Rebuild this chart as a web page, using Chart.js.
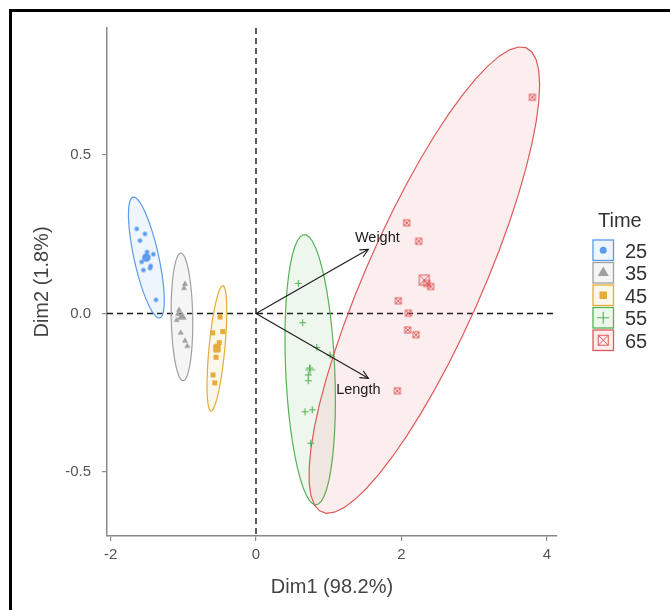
<!DOCTYPE html>
<html><head><meta charset="utf-8">
<script src="https://cdn.jsdelivr.net/npm/chart.js@4"></script>
<style>
html,body{margin:0;padding:0;background:#fff;overflow:hidden;}
#wrap{position:relative;width:670px;height:610px;}
#frame{position:absolute;left:9px;top:9px;width:700px;height:700px;border-top:3px solid #000;border-left:3px solid #000;pointer-events:none;}
canvas{position:absolute;left:0;top:0;}
</style></head><body>
<div id="wrap"><canvas id="c" width="670" height="610"></canvas><div id="frame"></div></div>
<script>
// ---------- data ----------
const groups = ['25', '35', '45', '55', '65'];
const dim1_25 = [-1.641, -1.527, -1.596, -1.499, -1.413, -1.572, -1.448, -1.458, -1.550, -1.376];
const dim2_25 = [0.267, 0.251, 0.230, 0.194, 0.187, 0.163, 0.150, 0.143, 0.137, 0.043];
const dim1_35 = [-0.977, -0.990, -1.073, -1.059, -1.018, -1.091, -1.036, -0.977, -0.945];
const dim2_35 = [0.093, 0.080, -0.002, 0.011, -0.008, -0.021, -0.061, -0.086, -0.103];
const dim1_45 = [-0.495, -0.596, -0.458, -0.505, -0.536, -0.541, -0.550, -0.591, -0.568];
const dim2_45 = [-0.011, -0.061, -0.057, -0.092, -0.103, -0.115, -0.138, -0.194, -0.219];
const dim1_55 = [0.582, 0.642, 0.835, 1.018, 0.736, 0.719, 0.719, 0.674, 0.774, 0.752];
const dim2_55 = [0.095, -0.029, -0.107, -0.131, -0.172, -0.194, -0.212, -0.310, -0.304, -0.409];
const dim1_65 = [3.801, 2.073, 2.238, 2.348, 2.403, 1.957, 2.095, 2.087, 2.201, 1.944];
const dim2_65 = [0.682, 0.286, 0.228, 0.095, 0.085, 0.040, 0.001, -0.052, -0.067, -0.244];

const varNames = ['Weight', 'Length'];
const varDim1 = [1.545, 1.545];
const varDim2 = [0.2025, -0.2044];

const xTickValues = [-2, 0, 2, 4];
const yTickValues = [-0.5, 0, 0.5];
const xTitle = 'Dim1 (98.2%)';
const yTitle = 'Dim2 (1.8%)';
const legendTitle = 'Time';

// ---------- styles ----------
const colors = ['#5B9BEA', '#A0A0A0', '#E6AC3A', '#55B255', '#DD5A5A'];
const shapes = ['circle', 'triangle', 'square', 'plus', 'squarex'];
const smallSize = [4.5, 6, 5, 7, 6];
const bigSize = [8.5, 9.5, 7.5, 10, 10];
const legendSize = [7, 11, 7.5, 12, 10];
const FONT = '"Liberation Sans", Arial, Helvetica, sans-serif';

const xs = [dim1_25, dim1_35, dim1_45, dim1_55, dim1_65];
const ys = [dim2_25, dim2_35, dim2_45, dim2_55, dim2_65];

function rgba(hex, a) {
  const n = parseInt(hex.slice(1), 16);
  return `rgba(${(n >> 16) & 255},${(n >> 8) & 255},${n & 255},${a})`;
}
function mean(a) { return a.reduce((s, v) => s + v, 0) / a.length; }

function drawSymbol(ctx, kind, x, y, s, color) {
  ctx.save();
  ctx.fillStyle = color; ctx.strokeStyle = color;
  if (kind === 'circle') { ctx.beginPath(); ctx.arc(x, y, s / 2, 0, Math.PI * 2); ctx.fill(); }
  else if (kind === 'triangle') {
    const h = s * 0.866; ctx.beginPath();
    ctx.moveTo(x, y - h * 2 / 3); ctx.lineTo(x + s / 2, y + h / 3); ctx.lineTo(x - s / 2, y + h / 3);
    ctx.closePath(); ctx.fill();
  }
  else if (kind === 'square') { ctx.fillRect(x - s / 2, y - s / 2, s, s); }
  else if (kind === 'plus') {
    ctx.lineWidth = 1.1; ctx.beginPath();
    ctx.moveTo(x - s / 2, y); ctx.lineTo(x + s / 2, y); ctx.moveTo(x, y - s / 2); ctx.lineTo(x, y + s / 2); ctx.stroke();
  }
  else if (kind === 'squarex') {
    ctx.lineWidth = 1; ctx.strokeRect(x - s / 2, y - s / 2, s, s);
    ctx.beginPath(); ctx.moveTo(x - s / 2, y - s / 2); ctx.lineTo(x + s / 2, y + s / 2);
    ctx.moveTo(x + s / 2, y - s / 2); ctx.lineTo(x - s / 2, y + s / 2); ctx.stroke();
  }
  ctx.restore();
}
function symbolCanvas(kind, s, color) {
  const c = document.createElement('canvas');
  const n = Math.ceil(s) + 4; c.width = n; c.height = n;
  drawSymbol(c.getContext('2d'), kind, n / 2, n / 2, s, color);
  return c;
}

// normal-theory 95% ellipse (as ggplot2 stat_ellipse type = "norm")
function ellipseOf(xv, yv, level) {
  const n = xv.length, mx = mean(xv), my = mean(yv);
  let sxx = 0, syy = 0, sxy = 0;
  for (let i = 0; i < n; i++) { const dx = xv[i] - mx, dy = yv[i] - my; sxx += dx * dx; syy += dy * dy; sxy += dx * dy; }
  sxx /= (n - 1); syy /= (n - 1); sxy /= (n - 1);
  const d = n - 1;
  const qf = (d / 2) * (Math.pow(1 - level, -2 / d) - 1);
  const r = Math.sqrt(2 * qf);
  const a = Math.sqrt(sxx), b = sxy / a, c = Math.sqrt(Math.max(syy - b * b, 0));
  const pts = [];
  for (let k = 0; k <= 51; k++) {
    const t = k / 51 * 2 * Math.PI, ct = Math.cos(t), st = Math.sin(t);
    pts.push({ x: mx + r * ct * a, y: my + r * (ct * b + st * c) });
  }
  return pts;
}
const ellipses = groups.map((g, i) => ellipseOf(xs[i], ys[i], 0.95));

// ---------- datasets ----------
const datasets = [];
groups.forEach((g, i) => {
  datasets.push({
    label: g,
    data: xs[i].map((v, k) => ({ x: v, y: ys[i][k] })),
    pointStyle: symbolCanvas(shapes[i], smallSize[i], colors[i]),
    pointRadius: 3, borderWidth: 0, backgroundColor: colors[i], borderColor: colors[i]
  });
});
groups.forEach((g, i) => {
  datasets.push({
    label: g + ' mean',
    data: [{ x: mean(xs[i]), y: mean(ys[i]) }],
    pointStyle: symbolCanvas(shapes[i], bigSize[i], colors[i]),
    pointRadius: 4, borderWidth: 0, backgroundColor: colors[i], borderColor: colors[i]
  });
});

const decor = {
  id: 'decor',
  beforeDatasetsDraw(chart) {
    const ctx = chart.ctx, xS = chart.scales.x, yS = chart.scales.y, a = chart.chartArea;
    ctx.save();
    // reference dashed lines
    ctx.strokeStyle = '#1a1a1a'; ctx.lineWidth = 1.4; ctx.setLineDash([6, 4]);
    const x0 = xS.getPixelForValue(0), y0 = yS.getPixelForValue(0);
    ctx.beginPath(); ctx.moveTo(x0, a.top); ctx.lineTo(x0, a.bottom); ctx.stroke();
    ctx.beginPath(); ctx.moveTo(a.left, y0); ctx.lineTo(a.right, y0); ctx.stroke();
    ctx.setLineDash([]);
    // ellipses
    ellipses.forEach((pts, i) => {
      ctx.beginPath();
      pts.forEach((p, k) => {
        const px = xS.getPixelForValue(p.x), py = yS.getPixelForValue(p.y);
        if (k === 0) ctx.moveTo(px, py); else ctx.lineTo(px, py);
      });
      ctx.closePath();
      ctx.fillStyle = rgba(colors[i], 0.1); ctx.fill();
      ctx.strokeStyle = colors[i]; ctx.lineWidth = 1.2; ctx.stroke();
    });
    ctx.restore();
  },
  afterDatasetsDraw(chart) {
    const ctx = chart.ctx, xS = chart.scales.x, yS = chart.scales.y;
    const ox = xS.getPixelForValue(0), oy = yS.getPixelForValue(0);
    const labelOffsets = [[9, -11], [-10, 12]];
    ctx.save();
    ctx.strokeStyle = '#1a1a1a'; ctx.lineWidth = 1.1;
    varNames.forEach((name, i) => {
      const tx = xS.getPixelForValue(varDim1[i]), ty = yS.getPixelForValue(varDim2[i]);
      ctx.beginPath(); ctx.moveTo(ox, oy); ctx.lineTo(tx, ty); ctx.stroke();
      const ang = Math.atan2(ty - oy, tx - ox), L = 9, w = 0.45;
      ctx.beginPath();
      ctx.moveTo(tx - L * Math.cos(ang - w), ty - L * Math.sin(ang - w));
      ctx.lineTo(tx, ty);
      ctx.lineTo(tx - L * Math.cos(ang + w), ty - L * Math.sin(ang + w));
      ctx.stroke();
      ctx.fillStyle = '#1a1a1a'; ctx.font = '14.5px ' + FONT;
      ctx.textAlign = 'center'; ctx.textBaseline = 'middle';
      ctx.fillText(name, tx + labelOffsets[i][0], ty + labelOffsets[i][1]);
    });
    ctx.restore();
  },
  afterDraw(chart) {
    const ctx = chart.ctx;
    ctx.save();
    ctx.fillStyle = '#333'; ctx.font = '20px ' + FONT;
    ctx.textAlign = 'left'; ctx.textBaseline = 'alphabetic';
    ctx.fillText(legendTitle, 598, 226.5);
    const kx = 592.5, ky = 239.5, kw = 21.5, kh = 22.5;
    groups.forEach((g, i) => {
      const top = ky + i * kh;
      ctx.fillStyle = '#fff'; ctx.fillRect(kx, top, kw, kh - 1);
      ctx.fillStyle = rgba(colors[i], 0.1); ctx.fillRect(kx, top, kw, kh - 1);
      ctx.strokeStyle = colors[i]; ctx.lineWidth = 1.3; ctx.strokeRect(kx + 0.5, top + 0.5, kw - 1, kh - 2);
      drawSymbol(ctx, shapes[i], kx + kw / 2, top + (kh - 1) / 2, legendSize[i], colors[i]);
      ctx.fillStyle = '#333'; ctx.font = '20px ' + FONT;
      ctx.fillText(g, 625, top + (kh - 1) / 2 + 7.5);
    });
    ctx.restore();
  }
};

new Chart(document.getElementById('c'), {
  type: 'scatter',
  data: { datasets },
  options: {
    responsive: false, animation: false, events: [],
    layout: { padding: { top: 28, right: 113, left: 0, bottom: 0 } },
    plugins: { legend: { display: false }, tooltip: { enabled: false } },
    scales: {
      x: {
        type: 'linear', min: -2.0495, max: 4.140,
        afterBuildTicks: s => { s.ticks = xTickValues.map(v => ({ value: v })); },
        afterFit: s => { s.height = 74; },
        grid: { display: true, drawOnChartArea: false, drawTicks: true, tickLength: 5, color: '#8a8a8a', lineWidth: 1.2 },
        border: { display: true, color: '#8a8a8a', width: 1.5 },
        ticks: { color: '#555', font: { family: FONT, size: 15 }, padding: 5, callback: v => String(v) },
        title: { display: true, text: xTitle, color: '#444', font: { family: FONT, size: 20 }, padding: { top: 0, bottom: 10.5 } }
      },
      y: {
        type: 'linear', min: -0.7019, max: 0.9006,
        afterBuildTicks: s => { s.ticks = yTickValues.map(v => ({ value: v })); },
        afterFit: s => { s.width = 107; },
        grid: { display: true, drawOnChartArea: false, drawTicks: true, tickLength: 5, color: '#8a8a8a', lineWidth: 1.2 },
        border: { display: true, color: '#8a8a8a', width: 1.5 },
        ticks: { color: '#555', font: { family: FONT, size: 15 }, padding: 11, callback: v => Number(v).toFixed(1) },
        title: { display: true, text: yTitle, color: '#444', font: { family: FONT, size: 20 }, padding: { top: 30.5, bottom: 0 } }
      }
    }
  },
  plugins: [decor]
});
</script>
</body></html>
